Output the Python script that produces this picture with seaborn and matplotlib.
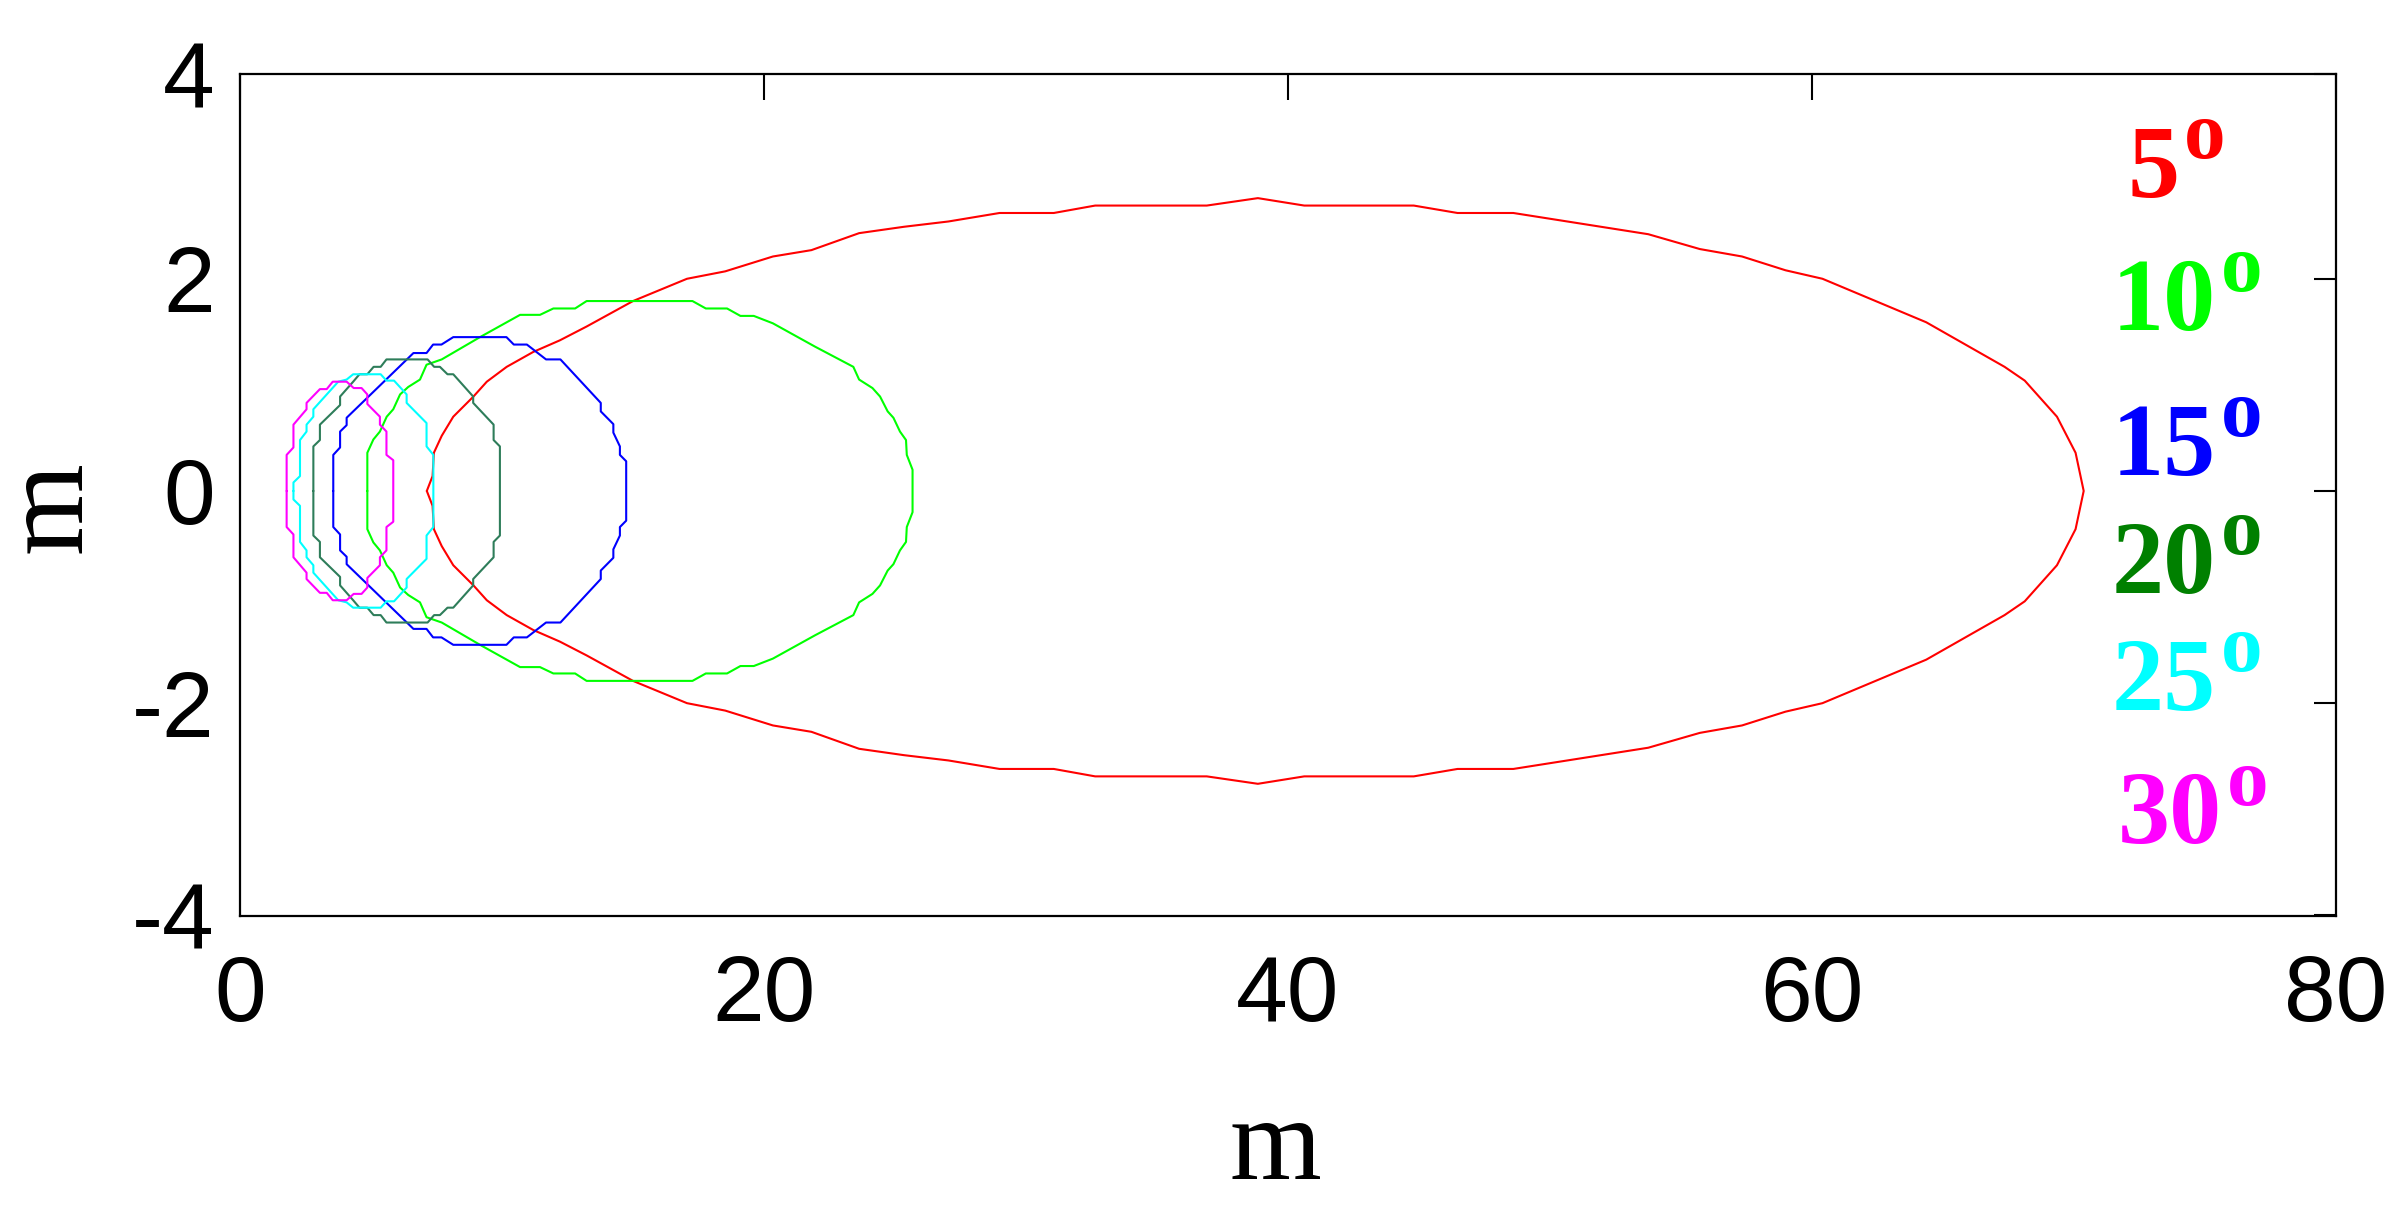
import matplotlib
matplotlib.use("Agg")
import matplotlib.pyplot as plt
import seaborn as sns
import pandas as pd

# ---------------- data (upper half of each closed contour, symmetric about y=0) -------------
angles = ["5", "10", "15", "20", "25", "30"]

x5 = [7.13, 7.35, 7.40, 7.70, 8.14, 8.91, 9.42, 10.18, 11.19, 12.21, 13.23, 15.00, 17.06, 18.52,
      20.34, 21.81, 23.63, 25.34, 27.04, 28.99, 31.06, 32.64, 36.90, 38.85, 40.62, 44.80, 46.47,
      48.60, 53.75, 55.72, 57.33, 58.99, 60.40, 64.36, 67.35, 68.12, 69.35, 70.06, 70.37]
y5 = [0.00, 0.14, 0.36, 0.52, 0.70, 0.89, 1.03, 1.17, 1.31, 1.42, 1.55, 1.79, 2.00, 2.07,
      2.21, 2.27, 2.43, 2.49, 2.54, 2.62, 2.62, 2.69, 2.69, 2.76, 2.69, 2.69, 2.62,
      2.62, 2.42, 2.28, 2.21, 2.08, 2.00, 1.59, 1.17, 1.04, 0.70, 0.36, 0.00]

x10 = [4.86, 4.86, 5.09, 5.34, 5.60, 5.85, 6.11, 6.42, 6.87, 7.12, 7.70, 9.16, 10.69, 11.45,
       11.96, 12.79, 13.23, 17.27, 17.78, 18.59, 19.10, 19.61, 20.34, 21.95, 23.41, 23.63,
       24.14, 24.43, 24.72, 24.94, 25.19, 25.42, 25.45, 25.67, 25.67]
y10 = [0.00, 0.36, 0.485, 0.56, 0.70, 0.77, 0.91, 0.98, 1.05, 1.19, 1.24, 1.45, 1.66, 1.66,
       1.72, 1.72, 1.79, 1.79, 1.72, 1.72, 1.65, 1.65, 1.58, 1.36, 1.17, 1.05,
       0.97, 0.89, 0.75, 0.69, 0.56, 0.48, 0.34, 0.20, 0.00]

x15 = [3.56, 3.56, 3.82, 3.82, 4.07, 4.07, 6.62, 7.12, 7.37, 7.69, 8.14, 10.17, 10.45, 10.95,
       11.68, 12.23, 13.77, 13.77, 14.25, 14.25, 14.50, 14.50, 14.74, 14.74]
y15 = [0.00, 0.34, 0.41, 0.56, 0.62, 0.69, 1.30, 1.30, 1.38, 1.38, 1.45, 1.45, 1.38, 1.38,
       1.24, 1.24, 0.83, 0.75, 0.63, 0.55, 0.42, 0.34, 0.28, 0.00]

x20 = [2.80, 2.80, 3.05, 3.05, 3.82, 3.82, 4.32, 4.56, 4.86, 5.10, 5.37, 5.59, 7.16, 7.41,
       7.63, 7.92, 8.14, 8.90, 8.90, 9.68, 9.68, 9.92, 9.92]
y20 = [0.00, 0.42, 0.48, 0.625, 0.81, 0.89, 1.03, 1.10, 1.10, 1.17, 1.17, 1.24, 1.24, 1.17,
       1.17, 1.10, 1.10, 0.89, 0.83, 0.625, 0.48, 0.42, 0.00]

x25 = [2.04, 2.04, 2.29, 2.29, 2.54, 2.54, 2.80, 2.80, 3.75, 4.07, 4.32, 5.37, 5.59, 5.88,
       6.36, 6.36, 7.12, 7.12, 7.38, 7.38]
y25 = [0.00, 0.08, 0.14, 0.48, 0.56, 0.625, 0.70, 0.77, 1.03, 1.05, 1.10, 1.10, 1.04, 1.04,
       0.91, 0.83, 0.64, 0.42, 0.34, 0.00]

x30 = [1.78, 1.78, 2.04, 2.04, 2.54, 2.54, 3.05, 3.31, 3.54, 4.07, 4.34, 4.64, 4.86, 4.86,
       5.34, 5.34, 5.59, 5.59, 5.85, 5.85]
y30 = [0.00, 0.34, 0.41, 0.625, 0.77, 0.83, 0.96, 0.96, 1.03, 1.03, 0.97, 0.97, 0.91, 0.82,
       0.70, 0.625, 0.56, 0.34, 0.29, 0.00]

line_colors = ["#FF0000", "#00FF00", "#0000FF", "#2E7D5A", "#00FFFF", "#FF00FF"]
label_colors = ["#FF0000", "#00FF00", "#0000FF", "#008000", "#00FFFF", "#FF00FF"]
label_x = [72.06, 71.45, 71.45, 71.45, 71.45, 71.68]
label_y = [2.77, 1.52, 0.15, -0.96, -2.06, -3.32]

xticks = [0, 20, 40, 60, 80]
yticks = [-4, -2, 0, 2, 3.93]
ytick_labels = ["-4", "-2", "0", "2", "4"]

halves = [(x5, y5), (x10, y10), (x15, y15), (x20, y20), (x25, y25), (x30, y30)]


def closed_loop(xu, yu):
    xs = list(xu) + list(xu[::-1])
    ys = list(yu) + [-v for v in yu[::-1]]
    return xs, ys


# ---------------- style ----------------
sns.set_style("white")
plt.rcParams["font.family"] = ["Liberation Sans", "DejaVu Sans"]
plt.rcParams["text.color"] = "black"
plt.rcParams["axes.labelcolor"] = "black"

fig = plt.figure(figsize=(24.06, 12.22), dpi=100)
ax = fig.add_axes([240 / 2406, 1 - 916 / 1222, (2336 - 240) / 2406, (916 - 74) / 1222])

for ang, (xu, yu), col in zip(angles, halves, line_colors):
    xs, ys = closed_loop(xu, yu)
    df = pd.DataFrame({"x": xs, "y": ys})
    sns.lineplot(data=df, x="x", y="y", sort=False, estimator=None, color=col,
                 linewidth=1.5, ax=ax)

serif = ["Liberation Serif", "DejaVu Serif"]
for ang, lx, ly, col in zip(angles, label_x, label_y, label_colors):
    t = ax.text(lx, ly, ang, color=col, fontsize=75, fontweight="bold",
                family=serif, ha="left", va="baseline")
    ax.annotate("o", xy=(1.0, 1.0), xycoords=t, xytext=(3, 17),
                textcoords="offset points", color=col, fontsize=60,
                fontweight="bold", family=serif, ha="left", va="top")

ax.set_xlim(0, 80)
ax.set_ylim(-4.006, 3.93)
ax.set_xticks(xticks)
ax.set_xticklabels([str(t) for t in xticks])
ax.set_yticks(yticks)
ax.set_yticklabels(ytick_labels)

for sp in ax.spines.values():
    sp.set_visible(True)
    sp.set_color("black")
    sp.set_linewidth(1.6)

ax.tick_params(axis="both", direction="in", top=True, right=True, width=1.5,
               labelsize=67, colors="black")
ax.tick_params(axis="x", length=19, pad=27)
ax.tick_params(axis="y", length=16, pad=18)

ax.set_xlabel("m", fontsize=85, family=serif, color="black")
ax.set_ylabel("m", fontsize=85, family=serif, color="black")
ax.xaxis.set_label_coords(0.4938, -0.214)
ax.yaxis.set_label_coords(-0.064, 0.486)

fig.savefig("out.png", dpi=100, facecolor="white")
